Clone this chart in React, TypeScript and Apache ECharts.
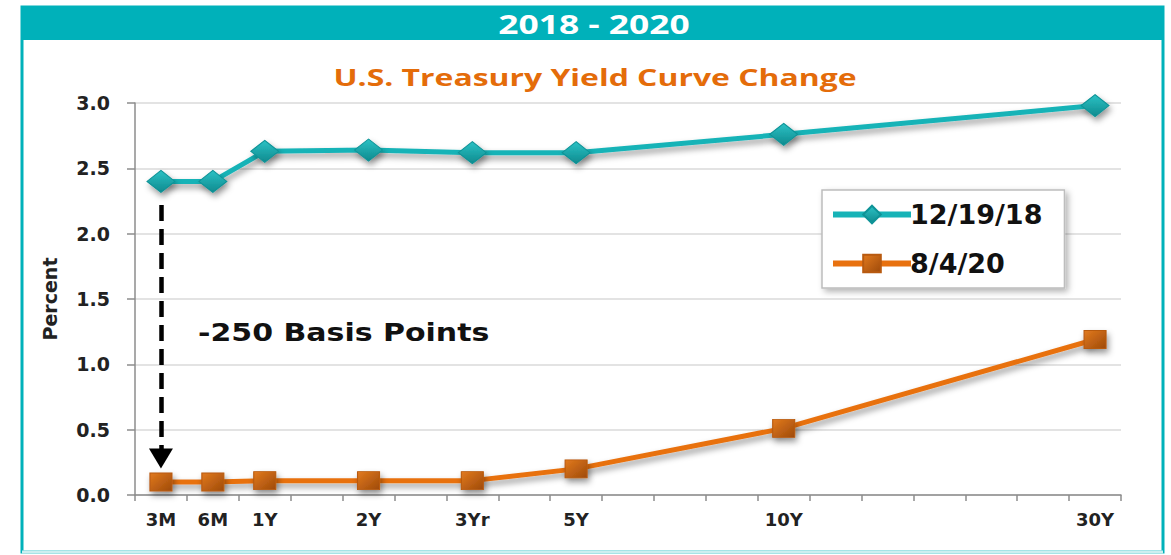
import React, { useEffect, useRef } from "react";
import * as echarts from "echarts";

const tenorLabels = ["3M", "6M", "1Y", "", "2Y", "", "3Yr", "", "5Y", "", "", "", "10Y", "", "", "", "", "", "30Y"];
const categories = tenorLabels.map((t, i) => (t ? t : `_${i}`));
const tenorIndex = [0, 1, 2, 4, 6, 8, 12, 18];
const yields2018 = [2.40, 2.40, 2.63, 2.64, 2.62, 2.62, 2.76, 2.98];
const yields2020 = [0.10, 0.10, 0.11, 0.11, 0.11, 0.20, 0.51, 1.19];
const seriesNames = ["12/19/18", "8/4/20"];
const yTicks = { min: 0, max: 3, interval: 0.5 };
const arrowFrom = 2.22;
const arrowTo = 0.28;

const TEAL = "#17B3B7";
const HEADER = "#00B1BA";
const ORANGE = "#E8710F";
const FONT = "DejaVu Sans";

export default function App() {
  const ref = useRef<HTMLDivElement>(null);
  useEffect(() => {
    document.body.style.margin = "0";
    const chart = echarts.init(ref.current!, null, { renderer: "svg" });
    const shadow = { shadowBlur: 6, shadowColor: "rgba(0,0,0,0.4)", shadowOffsetY: 4, shadowOffsetX: 2 };
    chart.setOption({
      animation: false,
      backgroundColor: "#fff",
      graphic: [
        { type: "rect", shape: { x: 22, y: 7, width: 1141, height: 545 }, style: { fill: "none", stroke: HEADER, lineWidth: 3 }, z: 0 },
        { type: "rect", shape: { x: 22, y: 7, width: 1141, height: 33 }, style: { fill: HEADER }, z: 0 },
        { type: "line", shape: { x1: 22, y1: 552, x2: 1163, y2: 552 }, style: { stroke: "#CDEFF0", lineWidth: 3 }, z: 1 },
        {
          type: "text",
          x: 594,
          y: 24,
          scaleX: 1.36,
          style: { text: "2018 - 2020", fill: "#fff", font: `bold 26px "Open Sans"`, align: "center", verticalAlign: "middle" },
          z: 5,
        },
        {
          type: "text",
          x: 595,
          y: 77,
          scaleX: 1.33,
          style: { text: "U.S. Treasury Yield Curve Change", fill: "#E46C0A", font: `bold 24px "Open Sans"`, align: "center", verticalAlign: "middle" },
          z: 5,
        },
        {
          type: "text",
          x: 198,
          y: 333,
          scaleX: 1.25,
          style: { text: "-250 Basis Points", fill: "#111", font: `bold 24px "${FONT}"`, align: "left", verticalAlign: "middle" },
          z: 10,
        },
      ],
      legend: {
        orient: "vertical",
        left: 822,
        top: 190,
        width: 240,
        padding: [11, 22, 11, 8],
        itemGap: 22,
        itemWidth: 78,
        itemHeight: 22,
        borderColor: "#BDBDBD",
        borderWidth: 1.5,
        backgroundColor: "#fff",
        shadowBlur: 6,
        shadowColor: "rgba(0,0,0,0.3)",
        shadowOffsetX: 3,
        shadowOffsetY: 3,
        lineStyle: { width: 6 },
        textStyle: { fontFamily: FONT, fontWeight: "bold", fontSize: 27, color: "#111", padding: [0, 0, 0, -6] },
        data: seriesNames,
      },
      grid: { left: 135, right: 50, top: 103, bottom: 60 },
      xAxis: {
        type: "category",
        data: categories,
        boundaryGap: true,
        axisLine: { lineStyle: { color: "#8C8C8C", width: 1.5 } },
        axisTick: { show: true, length: 6, lineStyle: { color: "#8C8C8C", width: 1.5 } },
        axisLabel: {
          interval: 0,
          margin: 15,
          formatter: (v: string) => (v.startsWith("_") ? "" : v),
          fontFamily: FONT,
          fontWeight: "bold",
          fontSize: 18,
          color: "#222",
        },
      },
      yAxis: {
        type: "value",
        ...yTicks,
        name: "Percent",
        nameLocation: "middle",
        nameGap: 76,
        nameTextStyle: { fontFamily: FONT, fontWeight: "bold", fontSize: 19, color: "#222" },
        axisLine: { show: true, lineStyle: { color: "#8C8C8C", width: 1.5 } },
        axisTick: { show: true, length: 8, lineStyle: { color: "#8C8C8C", width: 1.5 } },
        axisLabel: {
          formatter: (v: number) => v.toFixed(1),
          margin: 25,
          fontFamily: FONT,
          fontWeight: "bold",
          fontSize: 19,
          color: "#222",
        },
        splitLine: { lineStyle: { color: "#DADADA", width: 1.5 } },
      },
      series: [
        {
          name: seriesNames[0],
          type: "line",
          data: tenorIndex.map((x, i) => [x, yields2018[i]]),
          symbol: "diamond",
          symbolSize: [28, 22],
          lineStyle: { color: TEAL, width: 5, ...shadow },
          itemStyle: {
            color: new echarts.graphic.LinearGradient(0, 0, 0, 1, [
              { offset: 0, color: "#2CC2C5" },
              { offset: 1, color: "#0E8A8E" },
            ]),
            borderColor: "#0E9397",
            borderWidth: 1,
            ...shadow,
          },
          z: 3,
        },
        {
          name: seriesNames[1],
          type: "line",
          data: tenorIndex.map((x, i) => [x, yields2020[i]]),
          symbol: "rect",
          symbolSize: [22, 18],
          lineStyle: { color: ORANGE, width: 5, ...shadow },
          itemStyle: {
            color: new echarts.graphic.LinearGradient(0, 0, 1, 1, [
              { offset: 0, color: "#E27A1E" },
              { offset: 1, color: "#9E4A0A" },
            ]),
            borderColor: "#B85A10",
            borderWidth: 1,
            ...shadow,
          },
          markLine: {
            silent: true,
            symbol: ["none", "none"],
            label: { show: false },
            lineStyle: { color: "#000", width: 4.5, type: [16, 8] },
            data: [[{ coord: [0, arrowFrom] }, { coord: [0, arrowTo] }]],
          },
          markPoint: {
            silent: true,
            symbol: "triangle",
            symbolRotate: 180,
            symbolSize: [24, 20],
            label: { show: false },
            itemStyle: { color: "#000", shadowBlur: 0, shadowOffsetX: 0, shadowOffsetY: 0 },
            data: [{ coord: [0, arrowTo] }],
          },
          z: 3,
        },
      ],
    });
    return () => chart.dispose();
  }, []);
  return <div ref={ref} style={{ width: 1171, height: 555 }} />;
}
